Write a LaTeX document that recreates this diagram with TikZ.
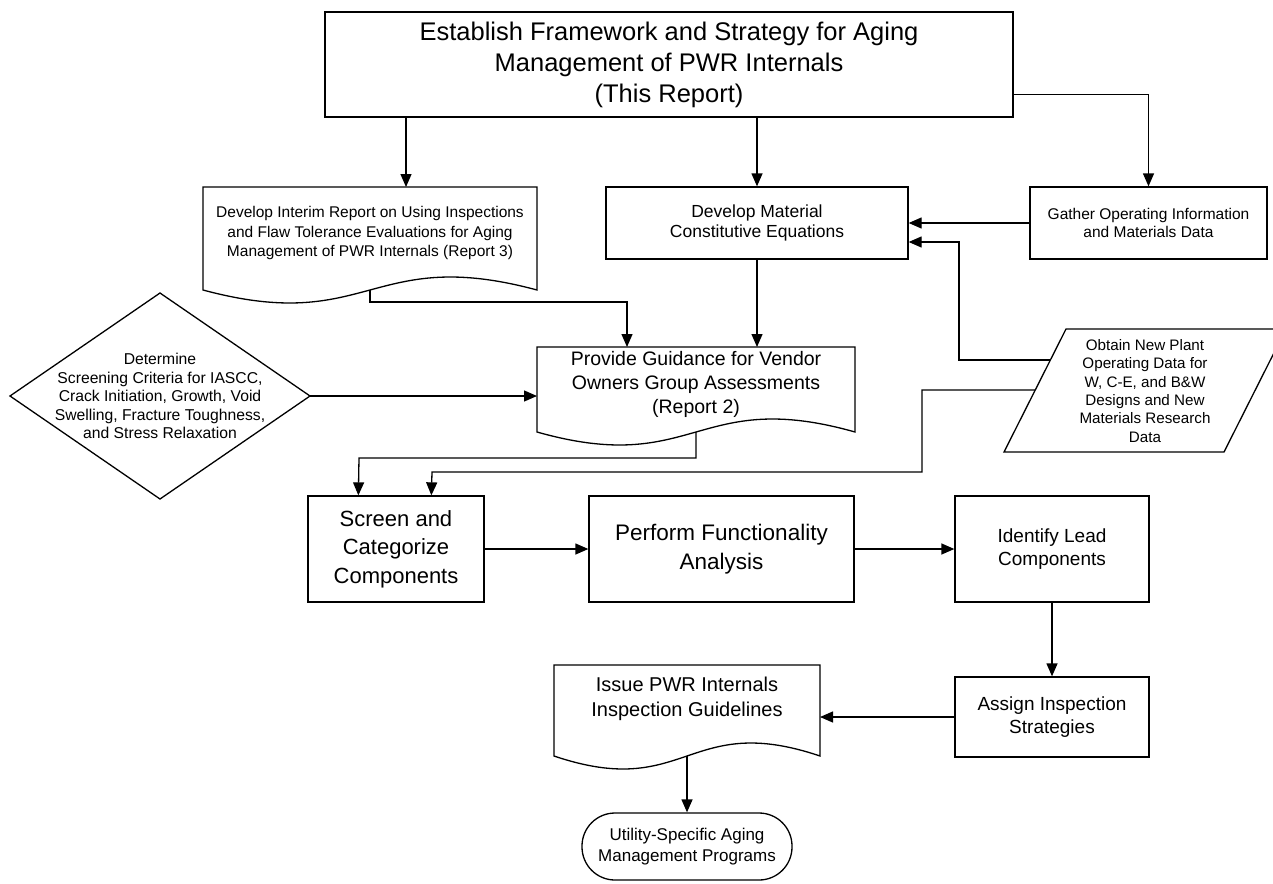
\documentclass[tikz,border=0pt]{standalone}
\usepackage{fontspec}
\setmainfont{Liberation Sans}
\usetikzlibrary{arrows.meta,calc}
\newcommand\fsz[2]{\fontsize{#1pt}{#2pt}\selectfont}
\tikzset{
  lbl/.style={align=center, inner sep=0pt, text=black},
  box/.style={draw=black, line width=1.3pt, rectangle, align=center, inner sep=0pt},
  shp/.style={draw=black, line width=1.3pt, line join=miter},
  conn/.style={draw=black, line width=1.3pt, -{Triangle[length=13pt,width=11pt]}},
}
\begin{document}
\begin{tikzpicture}[x=1pt,y=-1pt]
\useasboundingbox (0,0) rectangle (1273,883);
% top box
\node[box, line width=2.6pt, minimum width=688pt, minimum height=105pt, font=\fsz{25.5}{31}] (top) at (669,64.5)
  {Establish Framework and Strategy for Aging\\Management of PWR Internals\\(This Report)};
% report 3 document
\draw[shp] (203,290) -- (203,187) -- (537,187) -- (537,290) .. controls (370,245) and (370,335) .. (203,290) -- cycle;
\node[lbl, font=\fsz{15.5}{19.5}] (r3) at (370,233)
  {Develop Interim Report on Using Inspections\\and Flaw Tolerance Evaluations for Aging\\Management of PWR Internals (Report 3)};
\coordinate (r3t) at (406,187);
\coordinate (r3b) at (370,290);
% material
\node[box, minimum width=302pt, minimum height=72pt, font=\fsz{17.5}{20.5}] (mat) at (757,223)
  {Develop Material\\Constitutive Equations};
% gather
\node[box, minimum width=237pt, minimum height=72pt, font=\fsz{15.5}{18.5}] (gat) at (1148.5,223)
  {Gather Operating Information\\and Materials Data};
% obtain parallelogram
\draw[shp] (1066,329) -- (1286,329) -- (1224,452) -- (1004,452) -- cycle;
\node[lbl, font=\fsz{15.2}{18.3}] (obt) at (1145,391)
  {Obtain New Plant\\Operating Data for\\W, C-E, and B\&W\\Designs and New\\Materials Research\\Data};
\coordinate (ob1) at (1050,360);
\coordinate (ob2) at (1035,390);
% diamond
\draw[shp] (10,396) -- (160,293) -- (310,396) -- (160,499) -- cycle;
\node[lbl, font=\fsz{15.7}{18.5}] (dia) at (160,396)
  {Determine\\Screening Criteria for IASCC,\\Crack Initiation, Growth, Void\\Swelling, Fracture Toughness,\\and Stress Relaxation};
\coordinate (diaR) at (310,396);
% report 2 document
\draw[shp] (537,432) -- (537,347) -- (855,347) -- (855,432) .. controls (696,387) and (696,477) .. (537,432) -- cycle;
\node[lbl, font=\fsz{19.5}{24}] (r2) at (696,384)
  {Provide Guidance for Vendor\\Owners Group Assessments\\(Report 2)};
\coordinate (r2in) at (627,347);
\coordinate (r2L) at (537,396);
\coordinate (r2b) at (696,432);
% row
\node[box, minimum width=176pt, minimum height=106pt, font=\fsz{22}{28.5}] (scr) at (396,549)
  {Screen and\\Categorize\\Components};
\node[box, minimum width=265pt, minimum height=106pt, font=\fsz{22.5}{29}] (perf) at (721.5,549)
  {Perform Functionality\\Analysis};
\node[box, minimum width=194pt, minimum height=106pt, font=\fsz{19}{23}] (iden) at (1052,549)
  {Identify Lead\\Components};
\node[box, minimum width=194pt, minimum height=80pt, font=\fsz{19}{23}] (asg) at (1052,717)
  {Assign Inspection\\Strategies};
% issue document
\draw[shp] (554,756) -- (554,665) -- (820,665) -- (820,756) .. controls (687,711) and (687,801) .. (554,756) -- cycle;
\node[lbl, font=\fsz{20}{25}] (iss) at (687,699)
  {Issue PWR Internals\\Inspection Guidelines};
\coordinate (isR) at (820,717);
\coordinate (isb) at (687,756);
% terminal
\node[box, rounded corners=33pt, minimum width=210pt, minimum height=67pt, font=\fsz{17}{21}] (term) at (687,846.5)
  {Utility-Specific Aging\\Management Programs};
% connectors
\draw[conn] (top.south -| r3t) -- (r3t);
\draw[conn] (top.south -| mat.north) -- (mat.north);
\draw[conn] ($(top.south east)+(0,-24)$) -| (gat.north);
\draw[conn] (gat.west) -- (mat.east);
\draw[conn] (ob1) -- (959,360) -- (959,242) -- ($(mat.east)+(0,19)$);
\draw[conn] (r3b) -- ++(0,12) -| (r2in);
\draw[conn] (mat.south) -- (mat.south |- r2in);
\draw[conn] (diaR) -- (r2L);
\draw[conn] (r2b) -- (696,458) -- (359,458) -- ($(scr.north west)+(51,0)$);
\draw[conn] (ob2) -- (922,390) -- (922,472) -- (432,472) -- ($(scr.north west)+(124,0)$);
\draw[conn] (scr.east) -- (perf.west);
\draw[conn] (perf.east) -- (iden.west);
\draw[conn] (iden.south) -- (asg.north);
\draw[conn] (asg.west) -- (isR);
\draw[conn] (isb) -- (isb |- term.north);
\end{tikzpicture}
\end{document}
